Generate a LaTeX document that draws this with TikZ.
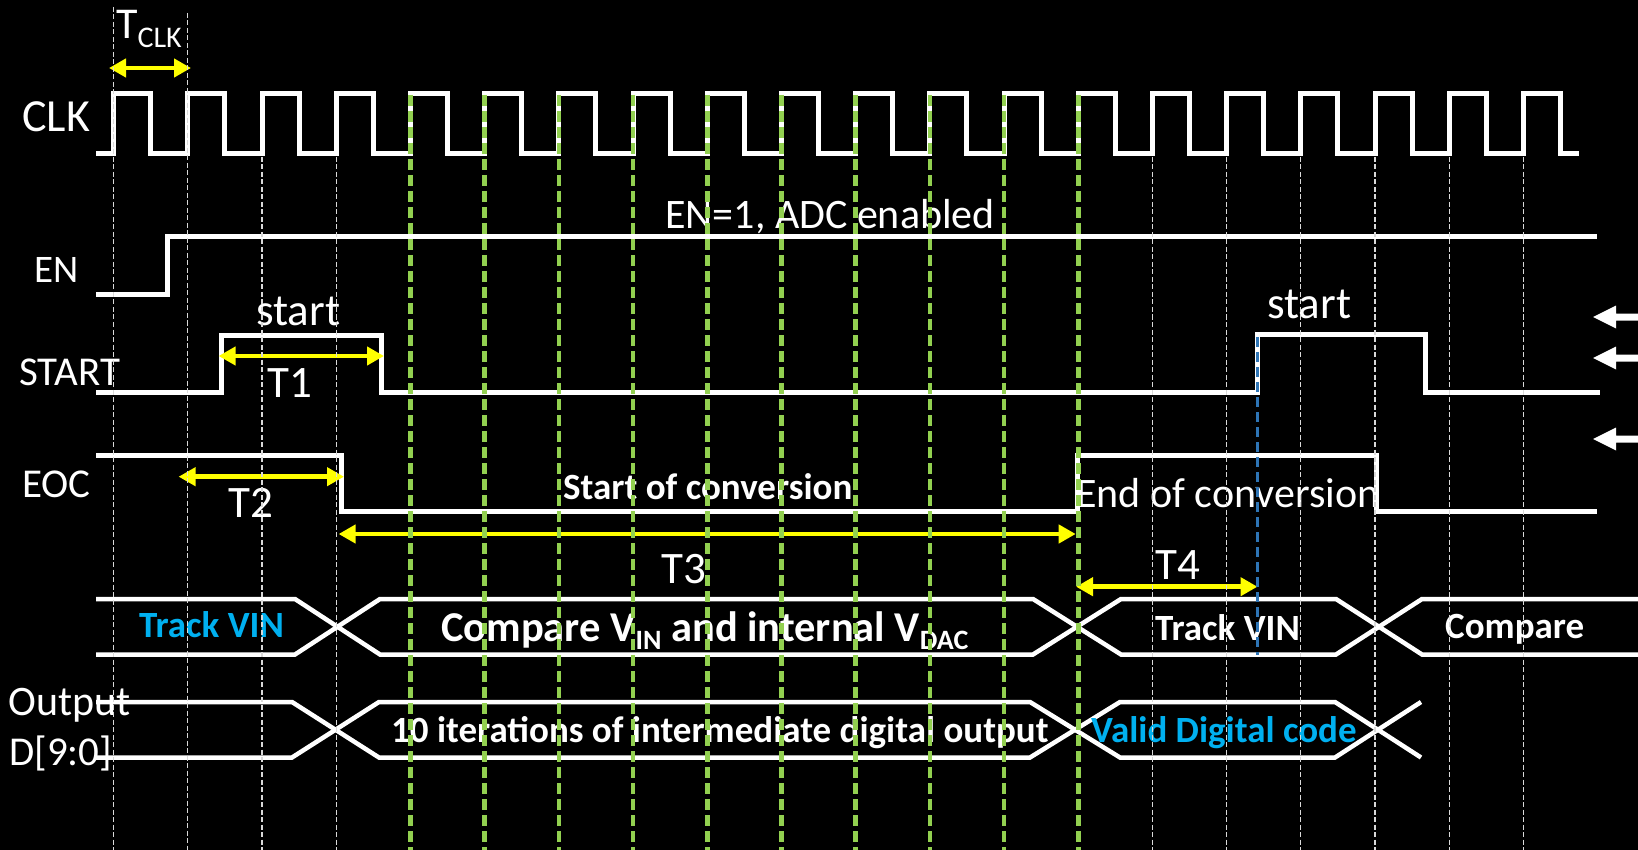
\documentclass[tikz,border=0pt]{standalone}
\usepackage{fontspec}
\setmainfont{Carlito}
\usetikzlibrary{arrows.meta}
\definecolor{lgreen}{HTML}{92D050}
\definecolor{skyblue}{HTML}{00B0F0}
\definecolor{dashblue}{HTML}{2E75B6}
\definecolor{dimyellow}{HTML}{FFFF00}
\begin{document}
\begin{tikzpicture}[x=1pt,y=-1pt,
  wave/.style={draw=white,line width=5pt,line join=miter},
  busline/.style={draw=white,line width=4.5pt,line join=miter},
  gridwhite/.style={draw=white!85!black,line width=1.1pt,dash pattern=on 5pt off 2.5pt},
  gridgreen/.style={draw=lgreen,line width=4.6pt,dash pattern=on 11pt off 5pt},
  gridblue/.style={draw=dashblue,line width=3.8pt,dash pattern=on 10pt off 5pt},
  dimarrow/.style={draw=dimyellow,line width=4.5pt,{Triangle[length=17pt,width=18pt]}-{Triangle[length=17pt,width=18pt]}},
  lbl/.style={text=white,inner sep=0pt,anchor=base west,font=\fontsize{#1}{#1}\selectfont},
  boldlbl/.style={text=white,inner sep=0pt,anchor=base west,font=\fontsize{#1}{#1}\selectfont\bfseries},
]
\useasboundingbox (0,0) rectangle (1638,850);
\fill[black] (0,0) rectangle (1638,850);

% ---- signal names
\node[lbl=46] (nclk) at (22,132) {CLK};
\node[lbl=39] (nen) at (34,283) {EN};
\node[lbl=41] (nstart) at (19,385) {START};
\node[lbl=41] (neoc) at (22,497) {EOC};
\node[lbl=42] (nout) at (8,715) {Output};
\node[lbl=41] (nd) at (9,765) {D[9:0]};

% ---- CLK
\draw[wave] (96,154) foreach \i in {0,...,19} {
  -- ({113.6+74.2*\i},154) -- ({113.6+74.2*\i},94) -- ({113.6+74.2*\i+37.1},94) -- ({113.6+74.2*\i+37.1},154) }
  -- (1579,154);

% ---- EN
\draw[wave] (96,295) -- (167,295) -- (167,236.5) -- (1597,236.5);
\node[lbl=42] (enlab) at (665,229) {EN=1, ADC enabled};

% ---- START
\draw[wave] (96,392.5) -- (221,392.5) -- (221,335) -- (381,335) -- (381,392.5) -- (1257,392.5)
  -- (1257,334) -- (1425,334) -- (1425,392.5) -- (1600,392.5);
\node[lbl=45] (st1) at (256,325) {start};
\node[lbl=45] (st2) at (1267,318) {start};

% ---- EOC
\draw[wave] (96,455.5) -- (341,455.5) -- (341,511) -- (1077,511) -- (1077,455.5) -- (1376,455.5)
  -- (1376,511) -- (1597,511);
\node[boldlbl=37] (soc) at (563,499) {Start of conversion};
\node[lbl=42] (eoclab) at (1076,507) {End of conversion};

% ---- state bus
\draw[busline] (96,599) -- (295,599) -- (380,654.5) -- (1033,654.5) -- (1121,599) -- (1336,599) -- (1422,654.5) -- (1638,654.5);
\draw[busline] (96,654.5) -- (295,654.5) -- (380,599) -- (1033,599) -- (1121,654.5) -- (1336,654.5) -- (1422,599) -- (1638,599);
\node[boldlbl=37,text=skyblue] (tv1) at (139,637) {Track VIN};
\node[boldlbl=42.5] (cmp1) at (441,641) {Compare V\raisebox{-8pt}{\fontsize{28}{28}\selectfont IN} and internal V\raisebox{-8pt}{\fontsize{28}{28}\selectfont DAC}};
\node[boldlbl=37] (tv2) at (1155,640) {Track VIN};
\node[boldlbl=37] (cmp2) at (1445,638) {Compare};

% ---- output bus
\draw[busline] (96,702) -- (292,702) -- (379,757.5) -- (1030,757.5) -- (1120,702) -- (1335,702) -- (1421,757.5);
\draw[busline] (96,757.5) -- (292,757.5) -- (379,702) -- (1030,702) -- (1120,757.5) -- (1335,757.5) -- (1421,702);
\node[boldlbl=37] (iter) at (391,742) {10 iterations of intermediate digital output};
\node[boldlbl=37,text=skyblue] (valid) at (1091,742) {Valid Digital code};

% ---- right-side arrows
\foreach \yy in {317,358,439} {
  \fill[white] (1593,\yy) -- (1616,{\yy-11.5}) -- (1616,{\yy-3.5}) -- (1638,{\yy-3.5})
    -- (1638,{\yy+3.5}) -- (1616,{\yy+3.5}) -- (1616,{\yy+11.5}) -- cycle;
}

% ---- yellow timing arrows
\coordinate (tca) at (109,68);   \coordinate (tcb) at (191,68);
\coordinate (t1a) at (218.6,356); \coordinate (t1b) at (384,356);
\coordinate (t2a) at (178.6,476.7); \coordinate (t2b) at (344,476.7);
\coordinate (t3a) at (338.6,534); \coordinate (t3b) at (1075.7,534);
\coordinate (t4a) at (1076,586.7); \coordinate (t4b) at (1257.5,586.7);
\draw[dimarrow] (tca) -- (tcb);
\draw[dimarrow] (t1a) -- (t1b);
\draw[dimarrow] (t2a) -- (t2b);
\draw[dimarrow] (t3a) -- (t3b);
\draw[dimarrow] (t4a) -- (t4b);
\node[lbl=44] (tclk) at (116,39) {T\raisebox{-9pt}{\fontsize{30}{30}\selectfont CLK}};
\node[lbl=45] (tt1) at (267,397) {T1};
\node[lbl=45] (tt2) at (228.6,517) {T2};
\node[lbl=45] (tt3) at (661,583) {T3};
\node[lbl=45] (tt4) at (1155,579) {T4};

% ---- grid lines
\foreach \i in {0,...,19} {
  \pgfmathsetmacro\gx{113.6+74.2*\i}
  \ifnum\i=0 \draw[gridwhite] (\gx,7) -- (\gx,850); \fi
  \ifnum\i=1 \draw[gridwhite] (\gx,13) -- (\gx,850); \fi
  \ifnum\i>1 \ifnum\i<4 \draw[gridwhite] (\gx,157) -- (\gx,850); \fi \fi
  \ifnum\i>3 \ifnum\i<14 \draw[gridgreen] (\gx,95) -- (\gx,850); \fi \fi
  \ifnum\i>13 \draw[gridwhite] (\gx,157) -- (\gx,850); \fi
}
\draw[gridblue] (1257.5,337) -- (1257.5,655);
\end{tikzpicture}
\end{document}
